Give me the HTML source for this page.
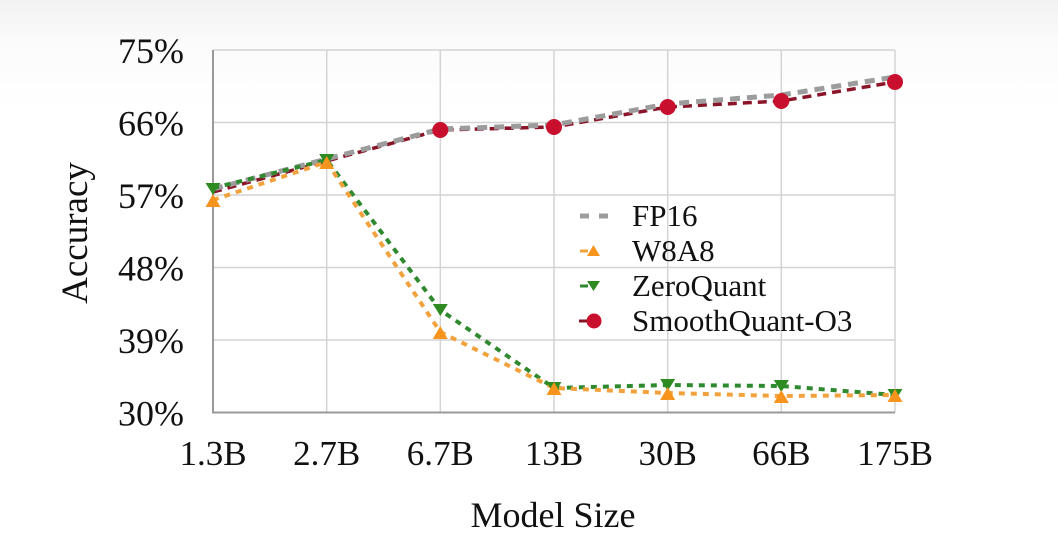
<!DOCTYPE html>
<html>
<head>
<meta charset="utf-8">
<style>
html,body{margin:0;padding:0;background:#fff;}
svg{display:block;}
text{font-family:"Liberation Serif","Times New Roman",serif;fill:#111;}
</style>
</head>
<body>
<svg width="1058" height="547" viewBox="0 0 1058 547" xmlns="http://www.w3.org/2000/svg">
<defs>
<linearGradient id="bg" x1="0" y1="0" x2="0" y2="1">
<stop offset="0" stop-color="#f2f2f2"/>
<stop offset="0.08" stop-color="#fbfbfb"/>
<stop offset="0.2" stop-color="#ffffff"/>
<stop offset="1" stop-color="#ffffff"/>
</linearGradient>
</defs>
<rect x="0" y="0" width="1058" height="547" fill="url(#bg)"/>

<!-- grid -->
<g stroke="#d4d4d4" stroke-width="1.5">
<line x1="213" y1="50" x2="895" y2="50"/>
<line x1="213" y1="122.5" x2="895" y2="122.5"/>
<line x1="213" y1="195" x2="895" y2="195"/>
<line x1="213" y1="267.5" x2="895" y2="267.5"/>
<line x1="213" y1="340" x2="895" y2="340"/>
<line x1="326.7" y1="50" x2="326.7" y2="412.5"/>
<line x1="440.3" y1="50" x2="440.3" y2="412.5"/>
<line x1="554" y1="50" x2="554" y2="412.5"/>
<line x1="667.7" y1="50" x2="667.7" y2="412.5"/>
<line x1="781.3" y1="50" x2="781.3" y2="412.5"/>
<line x1="895" y1="50" x2="895" y2="412.5"/>
</g>
<g stroke="#9a9a9a" stroke-width="2">
<line x1="213" y1="50" x2="213" y2="413"/>
<line x1="212" y1="412.5" x2="895" y2="412.5"/>
</g>

<!-- SmoothQuant line -->
<polyline fill="none" stroke="#8a1428" stroke-width="3.5" stroke-dasharray="9 6"
 points="213,192 326.7,161 440.3,130 554,127 667.7,107 781.3,101 895,82"/>
<!-- FP16 -->
<polyline fill="none" stroke="#9c9c9c" stroke-width="5" stroke-dasharray="10 7"
 points="213,189 326.7,159 440.3,129 554,125 667.7,104 781.3,95 895,77"/>
<!-- SmoothQuant dots -->
<g fill="#c8102e">
<circle cx="440.3" cy="130" r="8"/>
<circle cx="554" cy="127" r="8"/>
<circle cx="667.7" cy="107" r="8"/>
<circle cx="781.3" cy="101" r="8"/>
<circle cx="895" cy="82" r="8"/>
</g>

<!-- ZeroQuant -->
<polyline fill="none" stroke="#2f8a2f" stroke-width="4" stroke-dasharray="6 6"
 points="213,188 326.7,160 440.3,310 554,388 667.7,385 781.3,386 895,395"/>
<!-- W8A8 -->
<polyline fill="none" stroke="#f2a23c" stroke-width="4" stroke-dasharray="6 6"
 points="213,200 326.7,162 440.3,332 554,388 667.7,393 781.3,396 895,395"/>

<!-- ZeroQuant markers (down triangles) -->
<g fill="#2e8b22">
<polygon points="205.5,183 220.5,183 213,195"/>
<polygon points="319.2,154 334.2,154 326.7,166"/>
<polygon points="432.8,304 447.8,304 440.3,316"/>
<polygon points="546.5,382 561.5,382 554,394"/>
<polygon points="660.2,379 675.2,379 667.7,391"/>
<polygon points="773.8,380 788.8,380 781.3,392"/>
<polygon points="887.5,389 902.5,389 895,401"/>
</g>
<!-- W8A8 markers (up triangles) -->
<g fill="#f7941d">
<polygon points="205.5,207 220.5,207 213,194"/>
<polygon points="319.2,169 334.2,169 326.7,156"/>
<polygon points="432.8,339 447.8,339 440.3,326"/>
<polygon points="546.5,395 561.5,395 554,382"/>
<polygon points="660.2,400 675.2,400 667.7,387"/>
<polygon points="773.8,403 788.8,403 781.3,390"/>
<polygon points="887.5,402 902.5,402 895,389"/>
</g>

<!-- Y tick labels -->
<g font-size="36" text-anchor="end">
<text x="184" y="63">75%</text>
<text x="184" y="135.5">66%</text>
<text x="184" y="208">57%</text>
<text x="184" y="280.5">48%</text>
<text x="184" y="353">39%</text>
<text x="184" y="425.5">30%</text>
</g>
<!-- X tick labels -->
<g font-size="35" text-anchor="middle">
<text x="213" y="465">1.3B</text>
<text x="326.7" y="465">2.7B</text>
<text x="440.3" y="465">6.7B</text>
<text x="554" y="465">13B</text>
<text x="667.7" y="465">30B</text>
<text x="781.3" y="465">66B</text>
<text x="895" y="465">175B</text>
</g>
<text x="553" y="527" font-size="36" text-anchor="middle">Model Size</text>
<text transform="translate(87,233) rotate(-90)" font-size="37" text-anchor="middle">Accuracy</text>

<!-- Legend -->
<g>
<line x1="580" y1="216" x2="608" y2="216" stroke="#9c9c9c" stroke-width="5" stroke-dasharray="9 10"/>
<line x1="580" y1="251" x2="588" y2="251" stroke="#f2a23c" stroke-width="3"/>
<polygon points="587,256 600,256 593.5,245" fill="#f7941d"/>
<line x1="580" y1="286" x2="588" y2="286" stroke="#2f8a2f" stroke-width="3"/>
<polygon points="587,281 600,281 593.5,291" fill="#2e8b22"/>
<line x1="579" y1="321" x2="588" y2="321" stroke="#8a1428" stroke-width="3"/>
<circle cx="594" cy="321" r="7.5" fill="#c8102e"/>
<g font-size="31">
<text x="632" y="226">FP16</text>
<text x="632" y="261">W8A8</text>
<text x="632" y="296">ZeroQuant</text>
<text x="632" y="331">SmoothQuant-O3</text>
</g>
</g>
</svg>
</body>
</html>
